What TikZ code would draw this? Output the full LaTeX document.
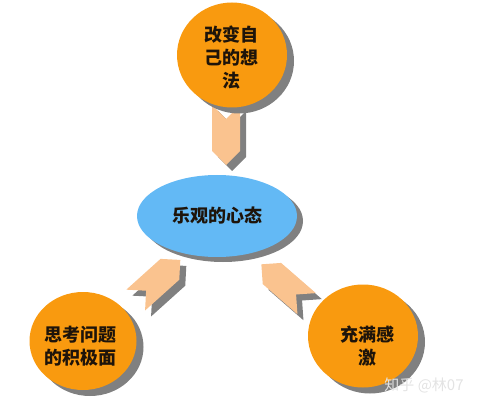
\documentclass[tikz,border=0pt]{standalone}
\usepackage{fontspec}
\newfontfamily\cjk{Noto Sans CJK SC}
\usetikzlibrary{shapes.geometric,shapes.symbols,shadows}
\definecolor{bubbleorange}{HTML}{F99A0F}
\definecolor{hubblue}{HTML}{63B9F5}
\definecolor{peach}{HTML}{FAC38F}
\definecolor{shadowgray}{HTML}{808080}
\definecolor{inktext}{HTML}{1E140A}
\begin{document}
\begin{tikzpicture}[x=1pt,y=-1pt,
  bubble/.style={ellipse, fill=bubbleorange, draw=none, inner sep=0pt,
    drop shadow={shadow xshift=7pt, shadow yshift=-6pt, fill=shadowgray, opacity=1}},
  hub/.style={ellipse, fill=hubblue, draw=none, inner sep=0pt,
    drop shadow={shadow xshift=6pt, shadow yshift=-5pt, fill=shadowgray, opacity=1}},
  chev/.style={signal, signal to=east, signal from=west, fill=peach, draw=none,
    minimum width=60pt, minimum height=28pt, inner sep=0pt},
  chevshadow/.style={chev, fill=shadowgray},
  lbl/.style={font=\cjk\bfseries\fontsize{18}{23}\selectfont, text=inktext, align=center, inner sep=0pt},
  wmark/.style={font=\cjk\fontsize{15}{18}\selectfont, text=white!78!gray, inner sep=0pt}
]
\useasboundingbox (0,0) rectangle (477,409);
% centre
\node[hub, minimum width=160pt, minimum height=82pt] (hub) at (217,216) {};
% arrows (shadows then arrows)
\node[chevshadow, rotate=-90] (a1s) at (232,141) {};
\node[chevshadow, rotate=42] (a2s) at (164,286) {};
\node[chevshadow, rotate=139] (a3s) at (290,290) {};
\node[chev, rotate=-90] (a1) at (226,135) {};
\node[chev, rotate=42] (a2) at (158,280) {};
\node[chev, rotate=139] (a3) at (284,284) {};
% outer bubbles
\node[bubble, minimum width=110pt, minimum height=105pt] (top) at (232,55) {};
\node[bubble, minimum width=107pt, minimum height=98pt] (left) at (83,341) {};
\node[bubble, minimum width=110pt, minimum height=103pt] (right) at (363,336) {};
% texts
\node[lbl] (t0) at (hub.center) {乐观的心态};
\node[lbl] (t1) at ([xshift=-1pt,yshift=-3pt]top.center) {改变自\\己的想\\法};
\node[lbl] (t2) at ([xshift=-2pt,yshift=-5pt]left.center) {思考问题\\的积极面};
\node[lbl] (t3) at ([xshift=4pt,yshift=-10pt]right.center) {充满感\\激};
\node[wmark] (wm) at (424,385) {知乎 @林07};
\end{tikzpicture}
\end{document}
